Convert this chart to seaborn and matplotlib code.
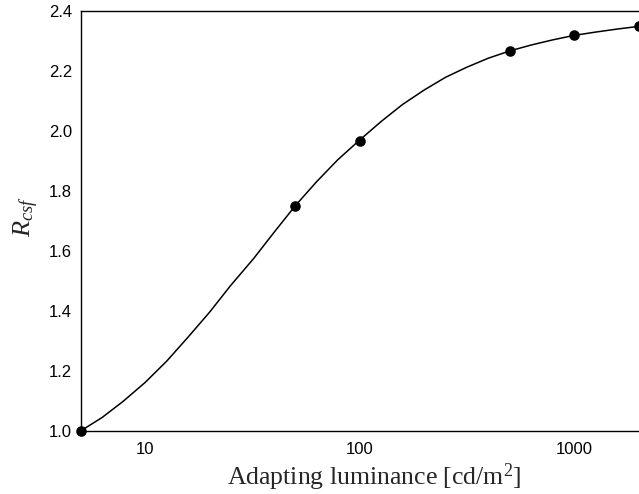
import matplotlib
matplotlib.use("Agg")
import matplotlib.pyplot as plt
from matplotlib.ticker import FixedLocator, NullLocator, FixedFormatter
import pandas as pd
import seaborn as sns

# Measured contrast-sensitivity ratio at each adapting luminance
lum_points = [5, 50, 100, 500, 1000, 2000]
rcsf_points = [1.000, 1.752, 1.968, 2.268, 2.322, 2.352]

# Fitted model curve, sampled along luminance (cd/m^2)
lum_curve = [5, 6.3, 7.9, 10, 12.6, 15.8, 20, 25, 32, 40, 50, 63, 79, 100,
             126, 158, 200, 251, 316, 398, 500, 631, 794, 1000, 1259, 1585,
             2000]
rcsf_curve = [1.000, 1.045, 1.099, 1.162, 1.233, 1.312, 1.397, 1.485, 1.575,
              1.664, 1.751, 1.832, 1.905, 1.971, 2.033, 2.089, 2.138, 2.180,
              2.214, 2.244, 2.268, 2.288, 2.305, 2.320, 2.331, 2.341, 2.350]

x_ticks = [10, 100, 1000]
x_tick_labels = ["10", "100", "1000"]
y_ticks = [1.0, 1.2, 1.4, 1.6, 1.8, 2.0, 2.2, 2.4]

sns.set_style("white")
plt.rcParams["font.family"] = ["Liberation Sans", "DejaVu Sans"]
plt.rcParams["mathtext.fontset"] = "custom"
plt.rcParams["mathtext.rm"] = "Liberation Serif"
plt.rcParams["mathtext.it"] = "Liberation Serif:italic"

curve = pd.DataFrame({"L": lum_curve, "R": rcsf_curve})
pts = pd.DataFrame({"L": lum_points, "R": rcsf_points})

fig = plt.figure(figsize=(6.39, 4.94), dpi=100)
ax = fig.add_axes([0.126, 0.1275, 0.874, 0.8495])

sns.lineplot(data=curve, x="L", y="R", ax=ax, color="black", linewidth=1.1,
             sort=True)
sns.scatterplot(data=pts, x="L", y="R", ax=ax, color="black", s=58,
                edgecolor="black", linewidth=0, zorder=5, clip_on=False)

ax.set_xscale("log")
ax.set_xlim(5, 2000)
ax.set_ylim(1.0, 2.4)
ax.xaxis.set_major_locator(FixedLocator(x_ticks))
ax.xaxis.set_major_formatter(FixedFormatter(x_tick_labels))
ax.xaxis.set_minor_locator(NullLocator())
ax.set_yticks(y_ticks)
ax.set_yticklabels([f"{v:.1f}" for v in y_ticks])

ax.tick_params(axis="both", which="major", direction="in", length=5,
               width=1.0, color="black", labelsize=12, labelcolor="black")
ax.tick_params(axis="y", pad=6)
ax.tick_params(axis="x", pad=8)

for side in ["left", "bottom", "top"]:
    ax.spines[side].set_visible(True)
    ax.spines[side].set_color("black")
    ax.spines[side].set_linewidth(1.0)
ax.spines["right"].set_visible(False)

ax.set_xlabel("Adapting luminance [cd/m$^2$]", fontsize=18.5,
              family="Liberation Serif", labelpad=3)
ax.xaxis.label.set_x(0.5255)
ax.set_ylabel(r"$R_{csf}$", fontsize=19, labelpad=6)
ax.yaxis.label.set_y(0.51)

fig.savefig("out.png", dpi=100)
